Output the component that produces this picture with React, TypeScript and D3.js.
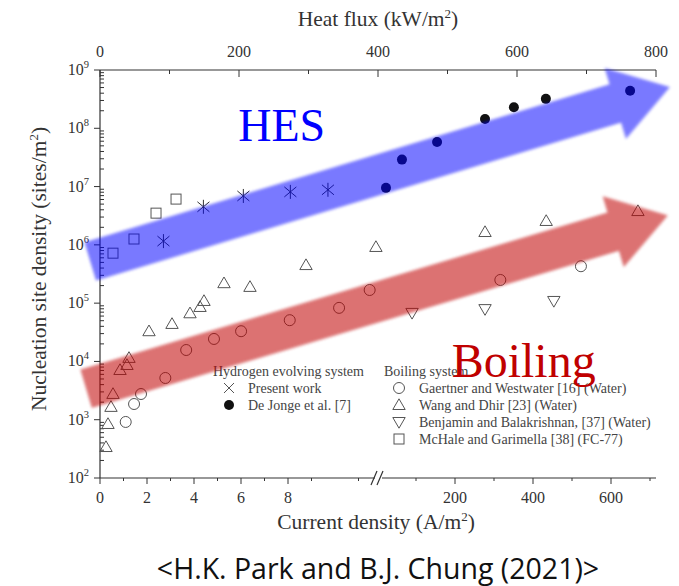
import React from "react";
import * as d3 from "d3";

// Hydrogen evolving system (bottom axis: current density, A/m2)
const presentJ = [2.7, 4.4, 6.1, 8.1, 9.7];
const presentN = [1.16e6, 4.5e6, 6.9e6, 8.1e6, 8.8e6];
const deJongeJ = [23, 64, 154, 277, 351, 433, 649];
const deJongeN = [9.5e6, 2.9e7, 5.8e7, 1.44e8, 2.3e8, 3.2e8, 4.4e8];

// Boiling system (top axis: heat flux, kW/m2)
const gaertnerQ = [37, 49, 59, 94, 124, 164, 203, 273, 344, 388, 576, 692];
const gaertnerN = [915, 1860, 2760, 5200, 1.57e4, 2.43e4, 3.3e4, 5.1e4, 8.3e4, 1.68e5, 2.5e5, 4.3e5];
const wangQ = [8.6, 11.5, 15.8, 18.7, 28.8, 38.8, 41.7, 70.5, 103.6, 129.5, 143.9, 149.6, 178.4, 215.8, 296.4, 397, 554, 642, 774];
const wangN = [340, 845, 1660, 2770, 7130, 8690, 1.15e4, 3.3e4, 4.4e4, 6.7e4, 8.6e4, 1.09e5, 2.2e5, 1.9e5, 4.5e5, 9.2e5, 1.66e6, 2.57e6, 3.8e6];
const benjaminQ = [449, 554, 653];
const benjaminN = [6.8e4, 7.9e4, 1.09e5];
const mchaleQ = [18.7, 48.9, 80.6, 109.4];
const mchaleN = [7.2e5, 1.26e6, 3.5e6, 6.1e6];

// ticks
const heatTicks = [0, 200, 400, 600, 800];
const heatMinor = [100, 300, 500, 700];
const curLoTicks = [0, 2, 4, 6, 8];
const curLoMinor = [1, 3, 5, 7, 9, 11];
const curHiTicks = [200, 400, 600];
const curHiMinor = [100, 300, 500, 700];
const decades = [2, 3, 4, 5, 6, 7, 8, 9];

// big arrows (heat flux, site density) and labels
const hesArrow = { from: [-14, 5.2e5], to: [820, 5.1e8] };
const boilArrow = { from: [-20, 3.4e3], to: [817, 3.2e6] };
const hesLabel = { q: 199, n: 6.05e7 };
const boilLabel = { q: 506, n: 5.4e3 };

const W = 679;
const H = 586;
const serif = "'Liberation Serif', 'Times New Roman', serif";

const y = d3.scaleLog().domain([1e2, 1e9]).range([478, 70]);
const xHeat = d3.scaleLinear().domain([0, 800]).range([100, 656]);
const xCurLo = d3.scaleLinear().domain([0, 10]).range([100, 335]);
const xCurHi = d3.scaleLinear().domain([200, 600]).range([455, 611]);
const breakX = 378;
const xCur = (j: number) => (j <= 12 ? xCurLo(j) : xCurHi(j));

const ink = "#444";

function Arrow({ a, color, opacity }: any) {
  const x0 = xHeat(a.from[0]), y0 = y(a.from[1]);
  const x1 = xHeat(a.to[0]), y1 = y(a.to[1]);
  const L = Math.hypot(x1 - x0, y1 - y0);
  const ang = (Math.atan2(y1 - y0, x1 - x0) * 180) / Math.PI;
  const w = 20, h = 57, hw = 37;
  const d = `M0,${-w} L${L - h},${-w} L${L - h},${-hw} L${L},0 L${L - h},${hw} L${L - h},${w} L0,${w} Z`;
  return (
    <path d={d} transform={`translate(${x0},${y0}) rotate(${ang})`} fill={color}
      opacity={opacity} filter="url(#soft)" />
  );
}

const tri = (cx: number, cy: number, s: number, down = false) => {
  const k = down ? -1 : 1;
  return `M${cx},${cy - k * s * 0.62} L${cx + s * 0.62},${cy + k * s * 0.45} L${cx - s * 0.62},${cy + k * s * 0.45} Z`;
};

function Marker({ type, cx, cy }: any) {
  const st = { fill: "none", stroke: "#555", strokeWidth: 1 };
  if (type === "circle") return <circle cx={cx} cy={cy} r={5.5} {...st} />;
  if (type === "dot") return <circle cx={cx} cy={cy} r={5} fill="#111" />;
  if (type === "up") return <path d={tri(cx, cy, 10)} {...st} />;
  if (type === "down") return <path d={tri(cx, cy, 10, true)} {...st} />;
  if (type === "square") return <rect x={cx - 5} y={cy - 5} width={10} height={10} {...st} />;
  if (type === "cross")
    return (
      <path d={`M${cx - 5},${cy - 5}L${cx + 5},${cy + 5}M${cx - 5},${cy + 5}L${cx + 5},${cy - 5}`} {...st} />
    );
  if (type === "star")
    return (
      <path
        d={`M${cx - 6},${cy - 5}L${cx + 6},${cy + 5}M${cx - 6},${cy + 5}L${cx + 6},${cy - 5}M${cx},${cy - 7}L${cx},${cy + 7}`}
        fill="none" stroke="#333" strokeWidth={1} />
    );
  return null;
}

function Pow({ x, yy, e }: any) {
  return (
    <text x={x} y={yy} textAnchor="end" fontFamily={serif} fontSize={16} fill="#333">
      10<tspan dy={-7} fontSize={10.5}>{e}</tspan>
    </text>
  );
}

export default function App() {
  const minorY: number[] = [];
  decades.slice(0, -1).forEach((e) => {
    for (let m = 2; m <= 9; m++) minorY.push(m * Math.pow(10, e));
  });

  const boilingSeries = [
    { q: gaertnerQ, n: gaertnerN, type: "circle" },
    { q: wangQ, n: wangN, type: "up" },
    { q: benjaminQ, n: benjaminN, type: "down" },
    { q: mchaleQ, n: mchaleN, type: "square" },
  ];

  return (
    <svg width={W} height={H} style={{ position: "absolute", left: 0, top: 0, background: "#fff" }}>
      <defs>
        <filter id="soft" x="-10%" y="-30%" width="120%" height="160%">
          <feGaussianBlur stdDeviation={1.8} />
        </filter>
      </defs>

      {/* axis titles */}
      <text x={378} y={26} textAnchor="middle" fontFamily={serif} fontSize={21.5} fill="#333">
        Heat flux (kW/m<tspan dy={-8} fontSize={13}>2</tspan><tspan dy={8}>)</tspan>
      </text>
      <text x={376} y={529} textAnchor="middle" fontFamily={serif} fontSize={21.5} fill="#333">
        Current density (A/m<tspan dy={-8} fontSize={13}>2</tspan><tspan dy={8}>)</tspan>
      </text>
      <text transform="translate(46,269) rotate(-90)" textAnchor="middle" fontFamily={serif} fontSize={21.5} fill="#333">
        Nucleation site density (sites/m<tspan dy={-8} fontSize={13}>2</tspan><tspan dy={8}>)</tspan>
      </text>
      <text x={378} y={579} textAnchor="middle" fontFamily="'Open Sans', Lato, sans-serif" fontSize={28.5} fill="#111">
        {"<H.K. Park and B.J. Chung (2021)>"}
      </text>

      {/* top axis */}
      <line x1={100} x2={656} y1={70} y2={70} stroke="#333" strokeWidth={1.2} />
      {heatTicks.map((t) => (
        <g key={"ht" + t}>
          <line x1={xHeat(t)} x2={xHeat(t)} y1={70} y2={77} stroke="#333" />
          <text x={xHeat(t)} y={57} textAnchor="middle" fontFamily={serif} fontSize={16} fill="#333">{t}</text>
        </g>
      ))}
      {heatMinor.map((t) => (
        <line key={"hm" + t} x1={xHeat(t)} x2={xHeat(t)} y1={70} y2={74} stroke="#333" />
      ))}

      {/* left axis */}
      <line x1={100} x2={100} y1={70} y2={478} stroke="#333" strokeWidth={1.2} />
      {decades.map((e) => (
        <g key={"yt" + e}>
          <line x1={94} x2={100} y1={y(Math.pow(10, e))} y2={y(Math.pow(10, e))} stroke="#333" />
          <Pow x={89} yy={y(Math.pow(10, e)) + 5} e={e} />
        </g>
      ))}
      {minorY.map((v, i) => (
        <line key={"ym" + i} x1={100} x2={104} y1={y(v)} y2={y(v)} stroke="#333" />
      ))}

      {/* bottom axis with break */}
      <line x1={100} x2={breakX - 3} y1={478} y2={478} stroke="#333" strokeWidth={1.2} />
      <line x1={breakX + 4} x2={656} y1={478} y2={478} stroke="#333" strokeWidth={1.2} />
      <path d={`M${breakX - 7},${485}L${breakX - 1},${471}M${breakX - 1},${485}L${breakX + 5},${471}`}
        stroke="#333" strokeWidth={1.2} fill="none" />
      {curLoTicks.map((t) => (
        <g key={"cl" + t}>
          <line x1={xCurLo(t)} x2={xCurLo(t)} y1={478} y2={484} stroke="#333" />
          <text x={xCurLo(t)} y={503} textAnchor="middle" fontFamily={serif} fontSize={16} fill="#333">{t}</text>
        </g>
      ))}
      {curLoMinor.map((t) => (
        <line key={"clm" + t} x1={xCurLo(t)} x2={xCurLo(t)} y1={478} y2={481} stroke="#333" />
      ))}
      {curHiTicks.map((t) => (
        <g key={"ch" + t}>
          <line x1={xCurHi(t)} x2={xCurHi(t)} y1={478} y2={484} stroke="#333" />
          <text x={xCurHi(t)} y={503} textAnchor="middle" fontFamily={serif} fontSize={16} fill="#333">{t}</text>
        </g>
      ))}
      {curHiMinor.map((t) => (
        <line key={"chm" + t} x1={xCurHi(t)} x2={xCurHi(t)} y1={478} y2={481} stroke="#333" />
      ))}

      {/* data */}
      {boilingSeries.map((s) =>
        s.q.map((q, i) => <Marker key={s.type + i} type={s.type} cx={xHeat(q)} cy={y(s.n[i])} />)
      )}
      {presentJ.map((j, i) => <Marker key={"p" + i} type="star" cx={xCur(j)} cy={y(presentN[i])} />)}
      {deJongeJ.map((j, i) => <Marker key={"d" + i} type="dot" cx={xCur(j)} cy={y(deJongeN[i])} />)}

      {/* legend */}
      <g fontFamily={serif} fontSize={14} fill={ink}>
        <text x={213} y={376}>Hydrogen evolving system</text>
        <Marker type="cross" cx={229} cy={388} />
        <text x={248} y={393}>Present work</text>
        <Marker type="dot" cx={229} cy={405} />
        <text x={248} y={410}>De Jonge et al. [7]</text>

        <text x={384} y={376}>Boiling system</text>
        <Marker type="circle" cx={399} cy={388} />
        <text x={419} y={393}>Gaertner and Westwater [16] (Water)</text>
        <Marker type="up" cx={399} cy={405} />
        <text x={419} y={410}>Wang and Dhir [23] (Water)</text>
        <Marker type="down" cx={399} cy={422} />
        <text x={419} y={427}>Benjamin and Balakrishnan, [37] (Water)</text>
        <Marker type="square" cx={399} cy={439} />
        <text x={419} y={444}>McHale and Garimella [38] (FC-77)</text>
      </g>

      {/* arrows */}
      <Arrow a={hesArrow} color="#0000ff" opacity={0.52} />
      <Arrow a={boilArrow} color="#c00000" opacity={0.55} />

      <text x={xHeat(hesLabel.q)} y={y(hesLabel.n)} fontFamily={serif} fontSize={46} fill="#0000ff">HES</text>
      <text x={xHeat(boilLabel.q)} y={y(boilLabel.n)} fontFamily={serif} fontSize={48} fill="#c00000">Boiling</text>
    </svg>
  );
}
